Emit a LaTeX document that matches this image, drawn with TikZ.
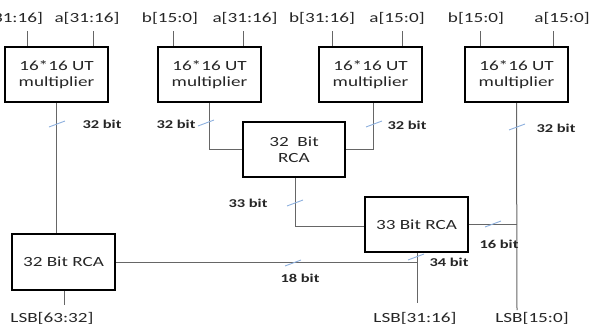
\documentclass[tikz,border=0pt]{standalone}
\usepackage{fontspec}
\setmainfont{Carlito}[FakeStretch=1.37]
\definecolor{wiregray}{HTML}{666666}
\definecolor{cutblue}{HTML}{8DB0DE}
\begin{document}
\begin{tikzpicture}[
		x=1pt, y=-1pt,
		every node/.style={font=\fontsize{14pt}{15.5pt}\selectfont, text=black!85, inner sep=0pt},
		block/.style={draw=black, line width=2pt, minimum width=103pt, minimum height=55pt, align=center},
		wire/.style={draw=wiregray, line width=1pt},
		cutmark/.style={draw=cutblue, line width=0.9pt},
		bitlbl/.style={font=\fontsize{12pt}{14pt}\selectfont\bfseries}
		]
		\useasboundingbox (0,0) rectangle (592,327);
		
		% Multiplizierer
		\node [block] (mul1) at (56.5,74.5) {16*16 UT\\multiplier};
		\node [block] (mul2) at (209.5,74.5) {16*16 UT\\multiplier};
		\node [block] (mul3) at (370.5,74.5) {16*16 UT\\multiplier};
		\node [block] (mul4) at (516.5,74.5) {16*16 UT\\multiplier};
		
		% Addierer
		\node [block, minimum width=102pt] (rcaA) at (294,149.5) {32~~Bit\\RCA};
		\node [block] (rcaB) at (416.5,224.5) {33 Bit~RCA};
		\node [block, minimum height=56pt] (rcaC) at (63.5,262) {32 Bit~RCA};
		
		% Eingaenge
		\foreach \x/\lx/\t [count=\i] in {27/10/b[31:16], 93/87/a[31:16], 173/170/b[15:0], 243/245/a[31:16],
				332/322/b[31:16], 402/397/a[15:0], 480/476/b[15:0], 553/562/a[15:0]}
		{
			\node (in\i) at (\lx,18) {\t};
			\coordinate (top\i) at (\x,31);
		}
		\draw [wire] (top1) -- (top1 |- mul1.north);
		\draw [wire] (top2) -- (top2 |- mul1.north);
		\draw [wire] (top3) -- (top3 |- mul2.north);
		\draw [wire] (top4) -- (top4 |- mul2.north);
		\draw [wire] (top5) -- (top5 |- mul3.north);
		\draw [wire] (top6) -- (top6 |- mul3.north);
		\draw [wire] (top7) -- (top7 |- mul4.north);
		\draw [wire] (top8) -- (top8 |- mul4.north);
		
		% Ausgaenge
		\node (lsbC) at (52,318) {LSB[63:32]};
		\node (lsbB) at (415,318) {LSB[31:16]};
		\node (lsbD) at (532,318) {LSB[15:0]};
		\coordinate (endC) at (64,305);
		\coordinate (endB) at (417,303);
		\coordinate (endD) at (517,310);
		
		% Verbindungen
		\draw [wire] (mul1.south) -- (mul1.south |- rcaC.north);
		\draw [wire] (mul2.south) |- (rcaA.west);
		\draw [wire] ([xshift=2.5pt]mul3.south) |- (rcaA.east);
		\draw [wire] (mul4.south) -- (endD);
		\draw [wire] ([xshift=1pt]rcaA.south) |- ([yshift=-1.5pt]rcaB.west);
		\draw [wire] (rcaB.east) -- (rcaB.east -| endD);
		\draw [wire] (rcaB.south -| endB) -- (endB);
		\draw [wire] (rcaC.east) -- (rcaC.east -| endB);
		\draw [wire] (rcaC.south -| endC) -- (endC);
		
		% Busbreiten
		\foreach \x/\y in {57/124, 206/123, 374/124, 517/127, 295/203, 493/224, 416/257, 293/263}
		\draw [cutmark] (\x,\y) +(-8,3) -- +(8,-3);
		\foreach \x/\y/\t [count=\i] in {102/124/32 bit, 176/124/32 bit, 407/125/32 bit, 556/128/32 bit,
				248/203/33 bit, 499/244/16 bit, 449/262/34 bit, 300/278/18 bit}
		\node [bitlbl] (bw\i) at (\x,\y) {\t};
		
	\end{tikzpicture}
\end{document}
